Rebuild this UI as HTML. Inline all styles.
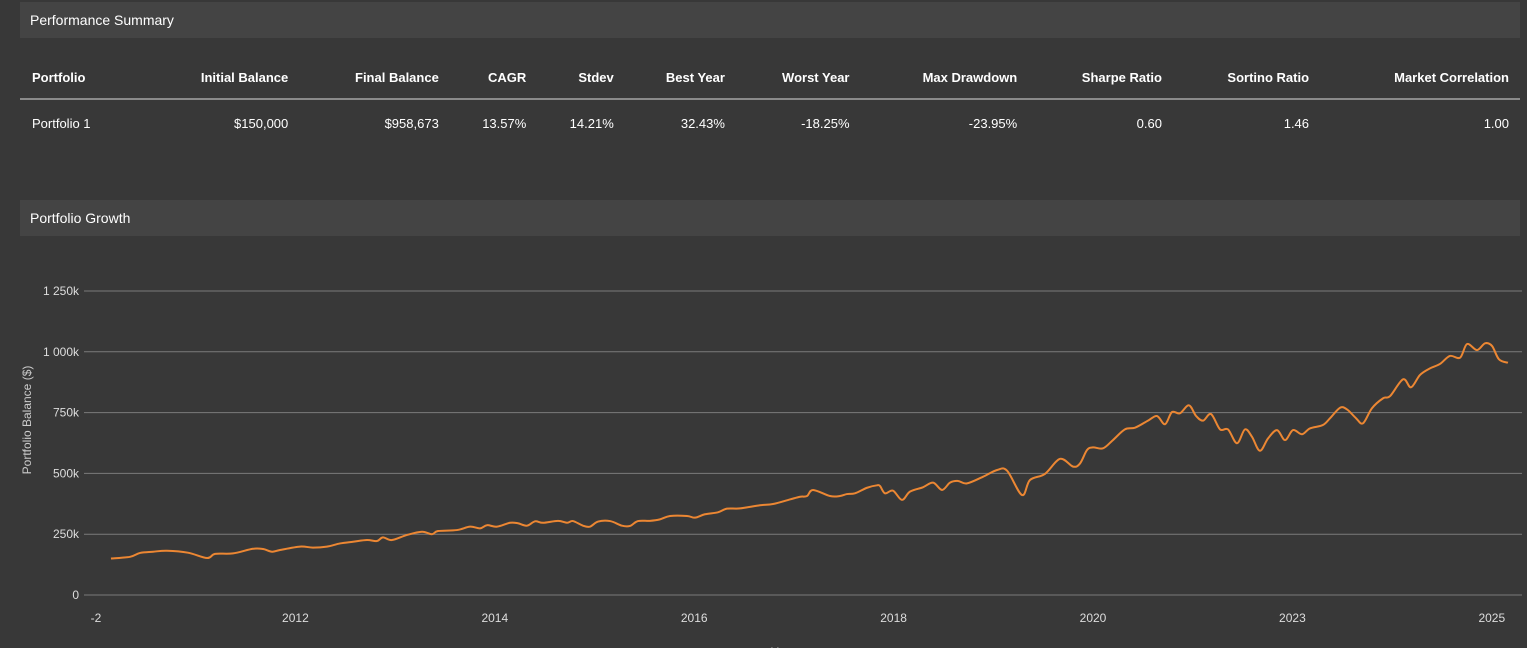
<!DOCTYPE html>
<html><head><meta charset="utf-8"><style>
body{margin:0;background:#383838;width:1527px;height:648px;overflow:hidden;font-family:"Liberation Sans","DejaVu Sans",sans-serif;color:#fff;position:relative}
.bar{position:absolute;left:20px;width:1500px;height:36px;background:#444;font-size:14px;line-height:36px;text-indent:10px}
table{position:absolute;left:20px;top:56px;width:1500px;border-collapse:collapse;font-size:13px}
th{font-weight:bold;height:42px;text-align:right;padding:0 11px 0 0;border-bottom:2px solid #8a8a8a}
td{height:46px;text-align:right;padding:0 11px 0 0}
th:first-child,td:first-child{text-align:left;padding-left:12px}
</style></head><body>
<div class="bar" style="top:2px">Performance Summary</div>
<table>
<tr><th style="width:100px">Portfolio</th><th>Initial Balance</th><th>Final Balance</th><th>CAGR</th><th>Stdev</th><th>Best Year</th><th>Worst Year</th><th>Max Drawdown</th><th>Sharpe Ratio</th><th>Sortino Ratio</th><th>Market Correlation</th></tr>
<tr><td>Portfolio 1</td><td>$150,000</td><td>$958,673</td><td>13.57%</td><td>14.21%</td><td>32.43%</td><td>-18.25%</td><td>-23.95%</td><td>0.60</td><td>1.46</td><td>1.00</td></tr>
</table>
<div class="bar" style="top:200px">Portfolio Growth</div>
<svg id="chart" width="1527" height="648" style="position:absolute;left:0;top:0"></svg>
<script>
const xTickLabels=["-2","2012","2014","2016","2018","2020","2023","2025"];
const yTicks=[0,250,500,750,1000,1250];
const times=[0.075,0.171,0.221,0.286,0.356,0.461,0.557,0.597,0.687,0.787,0.838,0.883,0.923,1.023,1.088,1.158,1.224,1.289,1.359,1.409,1.439,1.484,1.560,1.635,1.685,1.715,1.810,1.876,1.926,1.961,2.011,2.076,2.116,2.161,2.202,2.242,2.317,2.362,2.392,2.442,2.477,2.518,2.578,2.638,2.678,2.718,2.778,2.828,2.879,2.964,3.004,3.054,3.119,3.164,3.230,3.330,3.395,3.480,3.531,3.566,3.596,3.681,3.731,3.766,3.806,3.867,3.917,3.932,3.957,3.997,4.042,4.082,4.147,4.198,4.243,4.283,4.323,4.368,4.448,4.519,4.569,4.644,4.684,4.759,4.835,4.900,4.935,4.970,5.000,5.050,5.100,5.160,5.211,5.276,5.321,5.361,5.396,5.436,5.481,5.517,5.552,5.592,5.637,5.677,5.722,5.762,5.797,5.837,5.878,5.923,5.963,6.003,6.048,6.088,6.153,6.189,6.239,6.274,6.319,6.354,6.399,6.455,6.490,6.555,6.595,6.640,6.690,6.740,6.790,6.841,6.876,6.926,6.966,7.001,7.036,7.081];
const balances=[150,157,173,178,182,174,152,169,171,190,189,178,185,199,195,199,212,219,226,222,237,226,247,260,250,263,267,281,274,287,281,297,295,285,303,297,305,297,304,285,281,302,304,285,284,304,305,311,325,325,318,332,340,355,356,369,374,393,404,407,432,407,407,415,418,441,451,448,418,429,391,425,443,462,432,462,469,459,486,514,511,411,473,498,560,528,541,596,607,603,637,681,688,717,736,702,752,747,780,736,717,744,681,681,624,681,651,593,644,678,637,678,661,685,699,727,770,763,727,706,768,809,818,887,854,905,932,950,983,976,1032,1007,1035,1024,969,955];
const svg=document.getElementById('chart');const NS='http://www.w3.org/2000/svg';
const X0=96,XS=199.4,Y0=595,YS=304/1250;
const xs=t=>X0+t*XS, ys=v=>Y0-v*YS;
function mk(tag,attrs,txt){const e=document.createElementNS(NS,tag);for(const k in attrs)e.setAttribute(k,attrs[k]);if(txt!==undefined)e.textContent=txt;svg.appendChild(e);return e;}
yTicks.forEach(v=>{
 const l=mk('line',{x1:84,x2:1522,y1:ys(v),y2:ys(v),stroke:'#7a7a7a','stroke-width':1});
 
 
 const s=v>=1000?('1 '+String(v-1000).padStart(3,'0')+'k'):(v===0?'0':v+'k');
 const t=mk('text',{x:79,y:ys(v)+4,'text-anchor':'end',fill:'#ddd','font-size':12},s);
 
 
});
xTickLabels.forEach((s,i)=>{
 const t=mk('text',{x:xs(i),y:622,'text-anchor':'middle',fill:'#ddd','font-size':12},s);
 
 
});
const yt=mk('text',{x:0,y:0,transform:'translate(31,420) rotate(-90)','text-anchor':'middle',fill:'#ccc','font-size':12},'Portfolio Balance ($)');


const xt=mk('text',{x:783,y:656,'text-anchor':'middle',fill:'#ccc','font-size':12},'Year');


const P=times.map((t,i)=>[xs(t),ys(balances[i])]);
let d='M'+P[0][0]+','+P[0][1];
for(let i=0;i<P.length-1;i++){const p0=P[Math.max(0,i-1)],p1=P[i],p2=P[i+1],p3=P[Math.min(P.length-1,i+2)];
 d+=' C'+(p1[0]+(p2[0]-p0[0])/6)+','+(p1[1]+(p2[1]-p0[1])/6)+' '+(p2[0]-(p3[0]-p1[0])/6)+','+(p2[1]-(p3[1]-p1[1])/6)+' '+p2[0]+','+p2[1];}
const line=mk('path',{d:d,fill:'none',stroke:'#ec8733','stroke-width':2,'stroke-linejoin':'round'});


</script>
</body></html>
